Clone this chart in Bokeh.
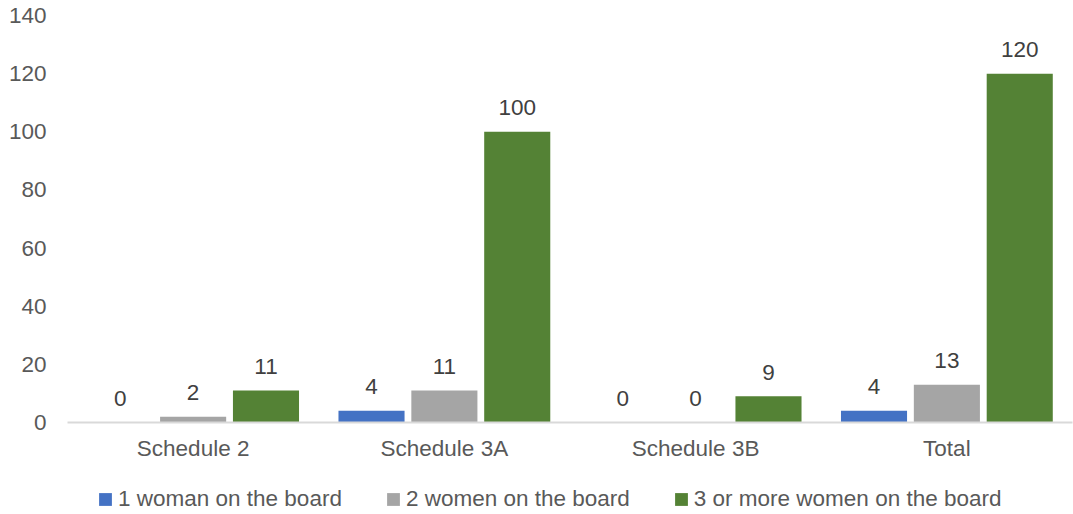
from bokeh.plotting import figure
from bokeh.models import ColumnDataSource, FactorRange, Range1d, Legend, LegendItem
from bokeh.layouts import column
from bokeh.transform import dodge
from bokeh.embed import file_html
from bokeh.resources import INLINE

categories = ["Schedule 2", "Schedule 3A", "Schedule 3B", "Total"]
one_woman = [0, 4, 0, 4]
two_women = [2, 11, 0, 13]
three_plus = [11, 100, 9, 120]
series_names = ["1 woman on the board", "2 women on the board", "3 or more women on the board"]
colors = ["#4472C4", "#A5A5A5", "#548235"]
y_ticks = [0, 20, 40, 60, 80, 100, 120, 140]

src = ColumnDataSource(dict(cat=categories, s1=one_woman, s2=two_women, s3=three_plus,
                            l1=[str(v) for v in one_woman], l2=[str(v) for v in two_women],
                            l3=[str(v) for v in three_plus]))

FONT = "Liberation Sans"
FS = "22.5px"
p = figure(width=1073, height=464, x_range=FactorRange(*categories), y_range=Range1d(0, 140),
           output_backend="svg", toolbar_location=None,
           min_border_left=67, min_border_right=1, min_border_top=15, min_border_bottom=42)
p.outline_line_color = None
p.grid.visible = False

offs = [-0.29, 0.0, 0.29]
cols = ["s1", "s2", "s3"]
labs = ["l1", "l2", "l3"]
for off, col, lab, c in zip(offs, cols, labs, colors):
    p.vbar(x=dodge("cat", off, range=p.x_range), top=col, width=0.263, source=src,
           fill_color=c, line_color=None)
    p.text(x=dodge("cat", off, range=p.x_range), y=col, text=lab, source=src,
           text_align="center", text_baseline="alphabetic", y_offset=-24,
           text_font_size=FS, text_color="#404040", text_font={"value": FONT})

p.yaxis.ticker = y_ticks
p.yaxis.axis_line_color = None
p.yaxis.major_tick_line_color = None
p.yaxis.minor_tick_line_color = None
p.yaxis.major_label_text_font_size = FS
p.yaxis.major_label_text_color = "#595959"
p.yaxis.major_label_text_font = FONT
p.yaxis.major_label_standoff = 15

p.xaxis.axis_line_color = "#D9D9D9"
p.xaxis.axis_line_width = 2
p.xaxis.major_tick_line_color = None
p.xaxis.minor_tick_line_color = None
p.xaxis.major_label_text_font_size = FS
p.xaxis.major_label_text_color = "#595959"
p.xaxis.major_label_text_font = FONT
p.xaxis.major_label_standoff = 7

# legend strip
lg = figure(width=1073, height=50, x_range=Range1d(0, 1), y_range=Range1d(0, 1),
            output_backend="svg", toolbar_location=None,
            x_axis_location=None, y_axis_location=None,
            min_border_left=0, min_border_right=0, min_border_top=0, min_border_bottom=0)
lg.outline_line_color = None
lg.grid.visible = False
dummies = [lg.vbar(x=[-10], top=[0], width=0.1, fill_color=c, line_color=None) for c in colors]
legend = Legend(items=[LegendItem(label=n, renderers=[r]) for n, r in zip(series_names, dummies)],
                orientation="horizontal", location=(30, 2),
                glyph_width=16, glyph_height=16, label_standoff=5, spacing=43,
                label_text_font_size=FS, label_text_color="#595959", label_text_font=FONT,
                border_line_color=None, background_fill_alpha=0, padding=2, margin=0)
lg.add_layout(legend, "center")

layout = column(p, lg, spacing=0)
open("out.html", "w").write(file_html(layout, INLINE))
